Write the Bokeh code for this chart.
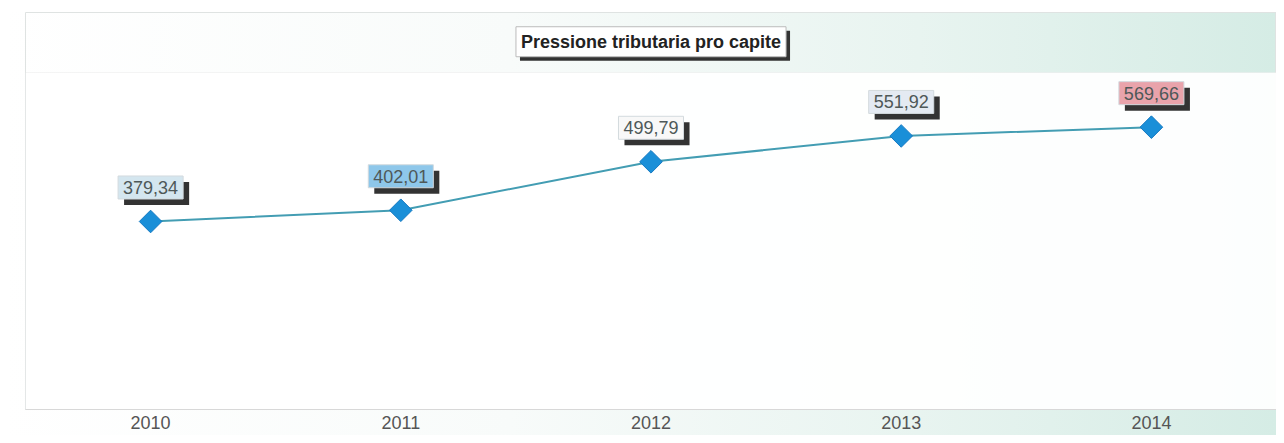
from bokeh.plotting import figure
from bokeh.models import Label, Range1d, FactorRange, BoxAnnotation, InlineStyleSheet
from bokeh.embed import file_html
from bokeh.resources import INLINE
import math

# ---- data ----
years = ["2010", "2011", "2012", "2013", "2014"]
values = [379.34, 402.01, 499.79, 551.92, 569.66]
box_colors = ["#d4e6ef", "#8ec7ea", "#f8f8f8", "#e4eaf2", "#e9a3ab"]
title_text = "Pressione tributaria pro capite"

Y_MAX = 680      # top of the plotting area (value axis)
Y_TOP = 801      # frame top, leaves room for the title band

FONT = "Liberation Sans"

p = figure(width=1276, height=435,
           x_range=FactorRange(*years),
           y_range=Range1d(0, Y_TOP),
           output_backend="svg", toolbar_location=None,
           min_border_left=25, min_border_right=0,
           min_border_top=12, min_border_bottom=26)

p.border_fill_color = None
p.background_fill_color = None
p.outline_line_color = "#dfe3e2"
p.stylesheets = [InlineStyleSheet(css="""
:host {
  background:
    linear-gradient(#ffffff, #ffffff) top left / 100% 12px no-repeat,
    linear-gradient(#ffffff, #ffffff) top left / 10px 100% no-repeat,
    linear-gradient(to right, #ffffff 0%, #f8fbfa 40%, #e8f4f0 72%, #d5ece5 100%);
}
""")]

p.xgrid.grid_line_color = None
p.ygrid.grid_line_color = None
p.yaxis.visible = False

ax = p.xaxis[0]
ax.axis_line_color = "#d8d8d8"
ax.major_tick_line_color = None
ax.minor_tick_line_color = None
ax.major_tick_out = 0
ax.major_label_text_font = FONT
ax.major_label_text_font_size = "18px"
ax.major_label_text_color = "#555555"
ax.major_label_standoff = 6

# white plotting area
p.add_layout(BoxAnnotation(bottom=0, top=Y_MAX, fill_color="#ffffff", fill_alpha=0.93,
                           line_color="#dcdcdc", line_width=1, level="underlay"))

p.line(years, values, line_color="#439db3", line_width=2)
p.scatter(years, values, marker="square", angle=math.pi / 4, size=16,
          fill_color="#1a8fd8", line_color="#1479c2", line_width=1)

for i, (yr, v, c) in enumerate(zip(years, values, box_colors)):
    xc = i + 0.5  # centre of the factor
    txt = f"{v:.2f}".replace(".", ",")
    shadow = Label(x=xc, y=v, text=txt, text_color="#333333",
                   text_font=FONT, text_font_size="18px",
                   text_align="center", text_baseline="middle",
                   x_offset=6, y_offset=34 - 6, padding=5,
                   background_fill_color="#333333")
    lab = Label(x=xc, y=v, text=txt, text_color="#4e5858",
                text_font=FONT, text_font_size="18px",
                text_align="center", text_baseline="middle",
                y_offset=34, padding=5,
                background_fill_color=c, border_line_color="#d3dade")
    p.add_layout(shadow)
    p.add_layout(lab)

tx = len(years) / 2
ty = Y_MAX + 62
tshadow = Label(x=tx, y=ty, x_offset=4, y_offset=-4,
                text=title_text, text_color="#333333", text_font=FONT,
                text_font_size="18px", text_font_style="bold",
                text_align="center", text_baseline="middle", padding=5,
                background_fill_color="#333333")
tlab = Label(x=tx, y=ty,
             text=title_text, text_color="#222222", text_font=FONT,
             text_font_size="18px", text_font_style="bold",
             text_align="center", text_baseline="middle", padding=5,
             background_fill_color="#ffffff", border_line_color="#bbbbbb")
p.add_layout(tshadow)
p.add_layout(tlab)

open("out.html", "w").write(file_html(p, INLINE))
